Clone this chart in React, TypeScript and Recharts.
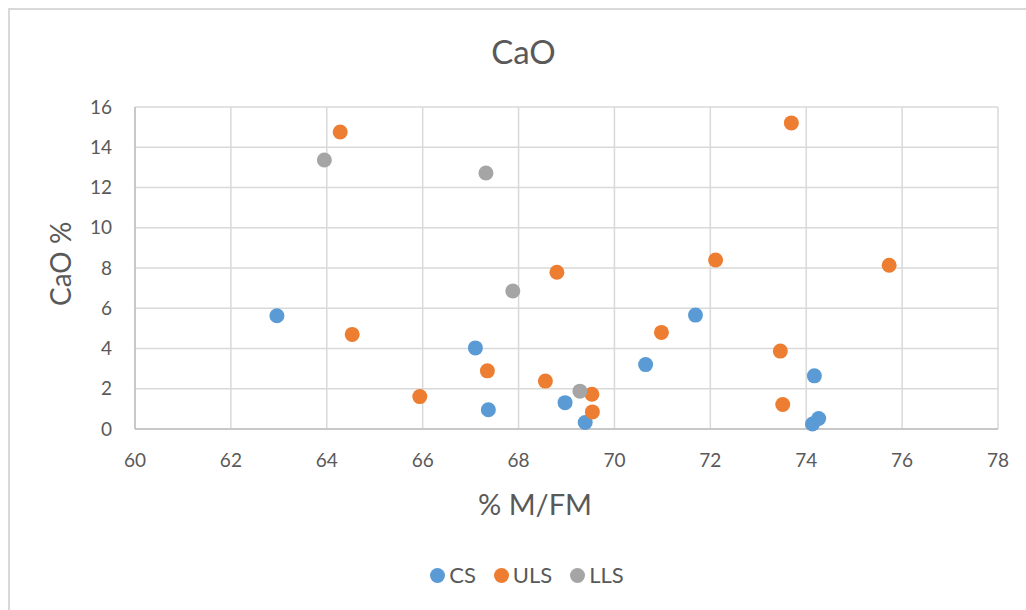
import React from 'react';
import { ScatterChart, Scatter, XAxis, YAxis, CartesianGrid } from 'recharts';

// values (x = % M/FM, y = CaO %)
const csX = [62.96, 67.1, 67.37, 68.97, 69.39, 70.65, 71.69, 74.17, 74.26, 74.13];
const csY = [5.63, 4.03, 0.96, 1.31, 0.32, 3.2, 5.66, 2.64, 0.52, 0.25];

const ulsX = [64.28, 64.53, 65.94, 67.35, 68.56, 68.8, 69.53, 69.54, 70.98, 72.11, 73.69, 73.46, 73.51, 75.73];
const ulsY = [14.76, 4.7, 1.61, 2.89, 2.38, 7.79, 1.73, 0.85, 4.8, 8.4, 15.21, 3.87, 1.22, 8.14];

const llsX = [63.95, 67.32, 67.88, 69.28];
const llsY = [13.37, 12.72, 6.86, 1.88];

const xTicks = [60, 62, 64, 66, 68, 70, 72, 74, 76, 78];
const yTicks = [0, 2, 4, 6, 8, 10, 12, 14, 16];

const toPoints = (xs: number[], ys: number[]) => xs.map((x, i) => ({ x, y: ys[i] }));

const series = [
  { name: 'CS', color: '#5B9BD5', data: toPoints(csX, csY) },
  { name: 'ULS', color: '#ED7D31', data: toPoints(ulsX, ulsY) },
  { name: 'LLS', color: '#A5A5A5', data: toPoints(llsX, llsY) },
];

const FONT = 'Lato, "Open Sans", sans-serif';
const TEXT = '#595959';

const Dot = (props: any) => <circle cx={props.cx} cy={props.cy} r={7.5} fill={props.fill} />;

export default function App() {
  return (
    <div style={{ position: 'absolute', left: 0, top: 0, width: 1026, height: 610, overflow: 'hidden', background: '#fff' }}>
      <div
        style={{
          position: 'absolute', left: 8, top: 8, width: 1018, height: 602,
          borderLeft: '2px solid #D9D9D9', borderTop: '2px solid #D9D9D9', boxSizing: 'border-box',
        }}
      />
      <div style={{ position: 'absolute', left: 0, top: 0 }}>
        <ScatterChart width={1026} height={610} margin={{ top: 107, right: 28, bottom: 151, left: 95 }}>
          <CartesianGrid stroke="#D9D9D9" strokeWidth={1.5} horizontalValues={yTicks} verticalValues={xTicks} />
          <XAxis
            type="number"
            dataKey="x"
            domain={[60, 78]}
            ticks={xTicks}
            height={30}
            axisLine={{ stroke: '#BFBFBF', strokeWidth: 1.5 }}
            tickLine={false}
            tickMargin={19}
            tick={{ fill: TEXT, fontSize: 19, fontFamily: FONT }}
          />
          <YAxis
            type="number"
            dataKey="y"
            domain={[0, 16]}
            ticks={yTicks}
            width={40}
            axisLine={{ stroke: '#BFBFBF', strokeWidth: 1.5 }}
            tickLine={false}
            tickMargin={17}
            tick={{ fill: TEXT, fontSize: 19, fontFamily: FONT }}
          />
          {series.map(s => (
            <Scatter key={s.name} name={s.name} data={s.data} fill={s.color} shape={Dot} isAnimationActive={false} />
          ))}
        </ScatterChart>
      </div>
      {/* legend */}
      <div
        style={{
          position: 'absolute', left: 14, width: 1026, top: 562, display: 'flex', justifyContent: 'center',
          alignItems: 'center', fontFamily: FONT, fontSize: 22, color: TEXT,
        }}
      >
        {series.map((s, i) => (
          <div key={s.name} style={{ display: 'flex', alignItems: 'center', marginRight: i < series.length - 1 ? 18 : 0 }}>
            <span style={{ width: 15, height: 15, borderRadius: '50%', background: s.color, marginRight: 4, display: 'inline-block' }} />
            <span style={{ lineHeight: '26px' }}>{s.name}</span>
          </div>
        ))}
      </div>
      <div style={{ position: 'absolute', left: 0, width: 1047, top: 32, textAlign: 'center', fontFamily: FONT, fontSize: 33, lineHeight: 1.2, color: TEXT }}>
        CaO
      </div>
      <div style={{ position: 'absolute', left: 0, width: 1070, top: 487, textAlign: 'center', fontFamily: FONT, fontSize: 29, lineHeight: 1.2, color: TEXT }}>
        % M/FM
      </div>
      <div
        style={{
          position: 'absolute', left: 61 - 100, top: 264 - 16.8, width: 200, height: 33.6,
          textAlign: 'center', fontFamily: FONT, fontSize: 28, lineHeight: 1.2, color: TEXT,
          transform: 'rotate(-90deg)',
        }}
      >
        CaO %
      </div>
    </div>
  );
}
